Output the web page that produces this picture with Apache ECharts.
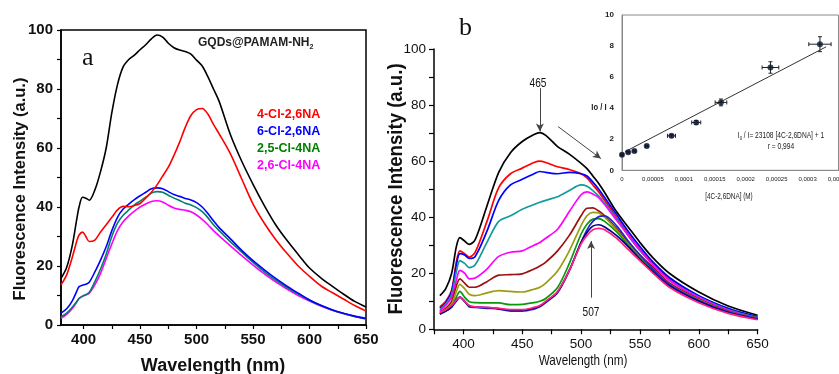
<!DOCTYPE html>
<html><head><meta charset="utf-8">
<script src="https://cdn.jsdelivr.net/npm/echarts@6/dist/echarts.min.js"></script>
<style>html,body{margin:0;padding:0;background:#fff}#c{width:839px;height:374px}</style>
</head><body><div id="c"></div>
<script>
// ---------- Panel a data ----------
const WA = [380,385,390,394,396,399,402,405,410,415,420,425,430,435,440,445,450,455,460,465,470,475,480,485,490,495,500,505,510,515,520,530,540,550,560,570,580,590,600,610,620,630,640,650];
const aGQD  = [15.8,19.5,27,36,40,43.3,43,42.3,45.8,52,60,72,81.5,87.5,90,91.5,93.3,95,97,98.3,97.6,95.5,94,93.2,92.7,91.8,89.8,87.8,84.2,80,75.8,64.5,55.5,47.7,40.5,34,28.7,23.9,19.3,16,13.2,10.5,8,6.1];
const a4Cl26 = [13.6,17,23,28.5,30.5,31.5,30,28.3,28.8,31.5,34,36.5,39,40.2,40.1,40.5,41.2,43,45,47.5,50.5,53.5,57.5,62,67,71,73,73.4,71.5,68,64.8,58,49.5,41,34.5,29,24.3,20,16.5,13.3,11,8.8,6.6,4.7];
const a6Cl26 = [4,5.5,8.2,11.5,13,13.5,13.8,14.5,18,22,26.5,32,36.5,39.3,41,42.5,43.8,45,46.2,46.5,46.2,45.2,44.2,43.6,42.9,42.4,41.5,40,37.8,35.3,33,29.2,25.3,21.8,18.7,15.8,13.2,10.8,8.5,6.7,5.2,4,3,2.2];
const a25Cl4 = [2.8,4,6,8,9,9.8,10.3,11,14.7,19,24,30,34.5,37.2,39,40.7,42,43.3,44.7,45.2,45,44,43,42.2,41.3,40.7,39.8,38.4,36.4,34,32,28.2,24.7,21.2,18,15.2,12.7,10.5,8.4,6.6,5.1,3.9,2.9,2.1];
const a26Cl4 = [2.3,3.6,5.6,7.8,9,9.7,10.2,10.8,13.6,17.5,22.5,27.5,32,35,37,38.6,40,41,41.9,42.1,41.7,40.6,39.7,39.2,38.9,38.4,37.3,35.8,34,32,30.2,26.8,23.5,20.3,17.3,14.6,12.2,10,8.1,6.4,5,3.9,2.9,2.1];
const aNames = ['GQDs@PAMAM-NH2','4-Cl-2,6NA','6-Cl-2,6NA','2,5-Cl-4NA','2,6-Cl-4NA'];
const aXTicks = [400,425,450,475,500,525,550,575,600,625,650];
const aXLabels = [400,450,500,550,600,650];

// ---------- Panel b data ----------
const WB = [380,385,390,394,397,401,405,410,420,430,440,450,460,465,470,480,490,500,505,510,515,520,530,540,550,560,575,600,625,650];
const b1  = [12,14.5,20,29.5,32.7,31.5,30.3,32,44,56,63,67,69.5,70.2,69.2,65.2,62.5,59.2,57.3,54.7,52,48.8,42,36.5,31,26,20,13.3,8.3,5];
const b2  = [8,10,14,24,28,27,25.8,27.5,38.5,50.5,55.5,57.5,59.5,60,59.5,58,57,55.5,54,51.5,49,46,40,34,28.5,24,18,11.8,7.2,4.3];
const b3  = [7.5,9.5,13.5,23,27,26.5,25.3,26,35,46,51.5,53.5,55.5,56.3,56,55.5,56,55.5,54.7,52.5,50,47,41,35,29.5,24.5,18.5,12,7.5,4.5];
const b4  = [7,9,12.5,20.5,24.5,23.5,22,23,31,38.5,40.5,42.8,44.5,45.3,46,47.3,49.5,51.5,51,49.5,47.5,45,39.5,33.5,28,23.5,17.5,11.5,7,4.2];
const b5  = [6.5,8.5,11.5,17.5,21,20,18,18.3,21.5,26,27.5,28,30,31,32.5,35.7,42,48,49,48.3,47,44.5,39,33.5,28.3,23.5,17.5,11.3,6.8,4];
const b6  = [6,7.5,10,15.5,18,16.5,15,15,17,19.3,19.5,19.8,21.5,22.6,24,28,33.5,40.5,43.2,43.3,42.2,40.5,36,31,26.5,22.5,16.5,10.8,6.5,4];
const b7  = [6,7,9,13.5,16,14.5,12.5,12,13,13.8,13.5,13.3,14.3,15,16.5,20.8,28,37,40.5,41.7,41.5,40,35.5,30.5,26,22,16,10.5,6.3,3.9];
const b8  = [5.5,6.5,8,11.5,13.5,11.5,9.8,9.5,9.4,9.4,8.8,8.9,9.5,10,11,14.9,23.5,34,37.5,39.3,39.5,38.5,34.8,30,25.5,21.5,15.8,10.3,6.2,3.8];
const b9  = [5.5,6.5,8,10,11.5,10,8,7.8,7.5,7.2,6.5,6.5,7.2,8,9.5,13,21,31,35.5,38.5,40.2,40.5,37,31.5,26.5,22,16,10.3,6.2,3.8];
const b10 = [5.5,6.5,8,10.5,11.5,10,8.3,8,7.7,7.4,6.8,6.8,7.5,8.3,9.8,13.3,21,31,34.5,36.8,37.3,36.5,33.5,29.5,25,21,15.5,10,6,3.6];
const b11 = [6,7,8.5,10.5,11.5,10,8.5,8,7.8,7.5,7,7,7.8,8.5,10,13.5,21,30.5,33.5,35.5,36,35.5,32.5,28.5,24.5,20.5,15,9.5,5.7,3.4];
const bSeries = [b1,b2,b3,b4,b5,b6,b7,b8,b9,b10,b11];

// ---------- Inset data ----------
const insX    = [0,0.00001,0.00002,0.00004,0.00008,0.00012,0.00016,0.00024,0.00032];
const insY    = [1.0,1.16,1.24,1.56,2.22,3.08,4.37,6.62,8.12];
const insXErr = [0.000002,0.000002,0.000002,0.000002,0.0000065,0.0000073,0.0000094,0.0000135,0.000018];
const insYErr = [0.05,0.05,0.05,0.05,0.08,0.12,0.22,0.37,0.48];
const insFitX = [0.000005,0.00033];
const insFitY = [1.2,7.95];

const aColors = ['#000000','#ff0000','#0000ff','#00806a','#ff00ff'];
const aTextColors = ['#000000','#ff0000','#0000ff','#008000','#ff00ff'];
const bColors = ['#000000','#ff0000','#0000ff','#139a9a','#ff00ff','#9a1010','#9c9c10','#0a990a','#2525d0','#00008a','#ff2080'];

const pairs = (xs, ys) => xs.map((x,i)=>[x, ys[i]]);
const SANS = "'Liberation Sans', Arial, sans-serif";

const series = [];
[aGQD,a4Cl26,a6Cl26,a25Cl4,a26Cl4].forEach((ys,i)=>{
  series.push({type:'line', name:aNames[i], xAxisIndex:0, yAxisIndex:0, data:pairs(WA,ys),
    smooth:0.3, showSymbol:false, lineStyle:{color:aColors[i], width:1.6}, z:10-i});
});
bSeries.forEach((ys,i)=>{
  const s = {type:'line', name:'b'+i, xAxisIndex:1, yAxisIndex:1, data:pairs(WB,ys),
    smooth:0.3, showSymbol:false, lineStyle:{color:bColors[i], width:1.7}};
  if(i===0){
    s.markLine = {silent:true, symbol:['none','arrow'], symbolSize:[6,8], animation:false,
      label:{show:false}, lineStyle:{color:'#444', width:1, type:'solid'},
      data:[
        [{coord:[465,86]},{coord:[465,70.6]}],
        [{coord:[508.5,11.3]},{coord:[508.5,31.5]}],
        [{coord:[480.5,72.3]},{coord:[516.8,60.9]}]
      ]};
  }
  series.push(s);
});
series.push({type:'line', xAxisIndex:2, yAxisIndex:2, data:pairs(insFitX,insFitY), showSymbol:false,
  lineStyle:{color:'#333', width:1}, silent:true, z:7});
series.push({type:'custom', xAxisIndex:2, yAxisIndex:2,
  data: insX.map((x,i)=>[x, insY[i], insXErr[i], insYErr[i]]),
  renderItem:(params, api)=>{
    const x=api.value(0), y=api.value(1), ex=api.value(2), ey=api.value(3);
    const l=api.coord([x-ex,y]), r=api.coord([x+ex,y]), t=api.coord([x,y+ey]), b=api.coord([x,y-ey]);
    const st={stroke:'#222', lineWidth:1};
    return {type:'group', children:[
      {type:'line', shape:{x1:l[0],y1:l[1],x2:r[0],y2:r[1]}, style:st},
      {type:'line', shape:{x1:l[0],y1:l[1]-2,x2:l[0],y2:l[1]+2}, style:st},
      {type:'line', shape:{x1:r[0],y1:r[1]-2,x2:r[0],y2:r[1]+2}, style:st},
      {type:'line', shape:{x1:t[0],y1:t[1],x2:b[0],y2:b[1]}, style:st},
      {type:'line', shape:{x1:t[0]-2,y1:t[1],x2:t[0]+2,y2:t[1]}, style:st},
      {type:'line', shape:{x1:b[0]-2,y1:b[1],x2:b[0]+2,y2:b[1]}, style:st}
    ]};
  }, z:7});
series.push({type:'scatter', xAxisIndex:2, yAxisIndex:2, data:pairs(insX,insY), symbolSize:6,
  itemStyle:{color:'#0b1630'}, z:8});

function txt(x, y, s, font, opts){
  return Object.assign({type:'text', x:x, y:y, z:20,
    style:Object.assign({text:s, font:font, fill:'#111', textAlign:'center', textVerticalAlign:'middle'}, (opts&&opts.style)||{})},
    opts&&opts.el||{});
}

const chart = echarts.init(document.getElementById('c'), null, {renderer:'canvas'});
chart.setOption({
  animation:false,
  backgroundColor:'#ffffff',
  grid:[
    {left:61, top:30, width:305, height:295, outerBoundsMode:'none', containLabel:false, show:true, borderColor:'#000', borderWidth:1.5, backgroundColor:'transparent'},
    {left:434, top:49, width:323.6, height:280.3, outerBoundsMode:'none', containLabel:false},
    {left:622, top:15, width:216.5, height:155.3, outerBoundsMode:'none', containLabel:false, show:true, borderColor:'#8a8a8a', borderWidth:1, backgroundColor:'#fff', z:5}
  ],
  xAxis:[
    {type:'value', gridIndex:0, min:380, max:650,
      axisLine:{lineStyle:{color:'#000', width:1.5}},
      axisTick:{show:true, customValues:aXTicks, length:4, lineStyle:{color:'#000', width:1.2}},
      axisLabel:{customValues:aXLabels, margin:7, color:'#111', fontFamily:SANS, fontWeight:'bold', fontSize:15},
      splitLine:{show:false}},
    {type:'value', gridIndex:1, min:375, max:650, interval:25,
      axisLine:{lineStyle:{color:'#000', width:1.5}},
      axisTick:{length:5, lineStyle:{color:'#000', width:1.2}},
      axisLabel:{margin:8, color:'#111', fontFamily:SANS, fontSize:13.5,
        formatter:v=> (v%50===0 ? String(v) : '')},
      splitLine:{show:false}},
    {type:'value', gridIndex:2, min:0, max:0.00035, interval:0.00005, z:6,
      axisLine:{lineStyle:{color:'#8a8a8a', width:1}},
      axisTick:{show:false},
      axisLabel:{margin:6, color:'#222', fontFamily:SANS, fontSize:6, alignMaxLabel:'center', alignMinLabel:'center', hideOverlap:false,
        formatter:v=>{ if(v===0) return '0'; return String(+v.toFixed(5)).replace('.',','); }},
      splitLine:{show:false}}
  ],
  yAxis:[
    {type:'value', gridIndex:0, min:0, max:100, interval:10,
      axisLine:{show:true, lineStyle:{color:'#000', width:1.5}},
      axisTick:{show:true, length:4, lineStyle:{color:'#000', width:1.2}},
      axisLabel:{margin:8, color:'#111', fontFamily:SANS, fontWeight:'bold', fontSize:15,
        formatter:v=> (v%20===0 ? String(v) : '')},
      splitLine:{show:false}},
    {type:'value', gridIndex:1, min:0, max:100, interval:10,
      axisLine:{show:true, lineStyle:{color:'#000', width:1.5}},
      axisTick:{show:true, length:5, lineStyle:{color:'#000', width:1.2}},
      axisLabel:{margin:8, color:'#111', fontFamily:SANS, fontSize:13.5,
        formatter:v=> (v%20===0 ? String(v) : '')},
      splitLine:{show:false}},
    {type:'value', gridIndex:2, min:0, max:10, interval:2, z:6,
      axisLine:{show:true, lineStyle:{color:'#8a8a8a', width:1}},
      axisTick:{show:false},
      axisLabel:{margin:8, color:'#222', fontFamily:SANS, fontWeight:'bold', fontSize:8},
      splitLine:{show:false}}
  ],
  graphic:[
    {type:'text', left:82, top:45, style:{text:'a', font:"26px 'Liberation Serif', 'DejaVu Serif', serif", fill:'#111'}},
    {type:'text', left:198, top:37, style:{
      text:'GQDs@PAMAM-NH{s|2}', fill:'#222', font:"bold 12px "+SANS,
      rich:{s:{fontSize:7, fontWeight:'bold', fontFamily:SANS, fill:'#222', padding:[8,0,0,0]}}}},
    ...aNames.slice(1).map((n,i)=>({type:'text', left:257, top:108.5+i*16.9,
      style:{text:n, fill:aTextColors[i+1], font:"bold 12.5px "+SANS}})),
    txt(20, 189, 'Fluorescence Intensity (a.u.)', "bold 16.5px "+SANS, {el:{rotation:Math.PI/2}}),
    txt(213, 366, 'Wavelength (nm)', "bold 18px "+SANS),
    {type:'text', left:459, top:15, style:{text:'b', font:"26px 'Liberation Serif', 'DejaVu Serif', serif", fill:'#111'}},
    txt(396, 189, 'Fluorescence Intensity (a.u.)', "bold 20px "+SANS, {el:{rotation:Math.PI/2, scaleX:0.93}}),
    txt(583, 361, 'Wavelength (nm)', "15px "+SANS, {el:{scaleX:0.78}}),
    txt(538, 83, '465', "13.5px "+SANS, {el:{scaleX:0.75}}),
    txt(591, 312, '507', "13.5px "+SANS, {el:{scaleX:0.75}}),
    txt(599, 108, 'Io / I', "bold 9px "+SANS, {el:{scaleX:0.85}, style:{fill:'#222'}}),
    txt(729, 197, '[4C-2,6DNA] (M)', "8.5px "+SANS, {el:{scaleX:0.75}, style:{fill:'#222'}}),
    txt(781, 136, 'I{s|0} / I= 23108 [4C-2,6DNA] + 1', "8.5px "+SANS, {el:{scaleX:0.78},
      style:{fill:'#222', rich:{s:{fontSize:5.5, fontFamily:SANS, fill:'#222', padding:[4,0,0,0]}}}}),
    txt(781, 146.5, 'r = 0,994', "8.5px "+SANS, {el:{scaleX:0.78}, style:{fill:'#222'}})
  ],
  series: series
});
</script></body></html>
